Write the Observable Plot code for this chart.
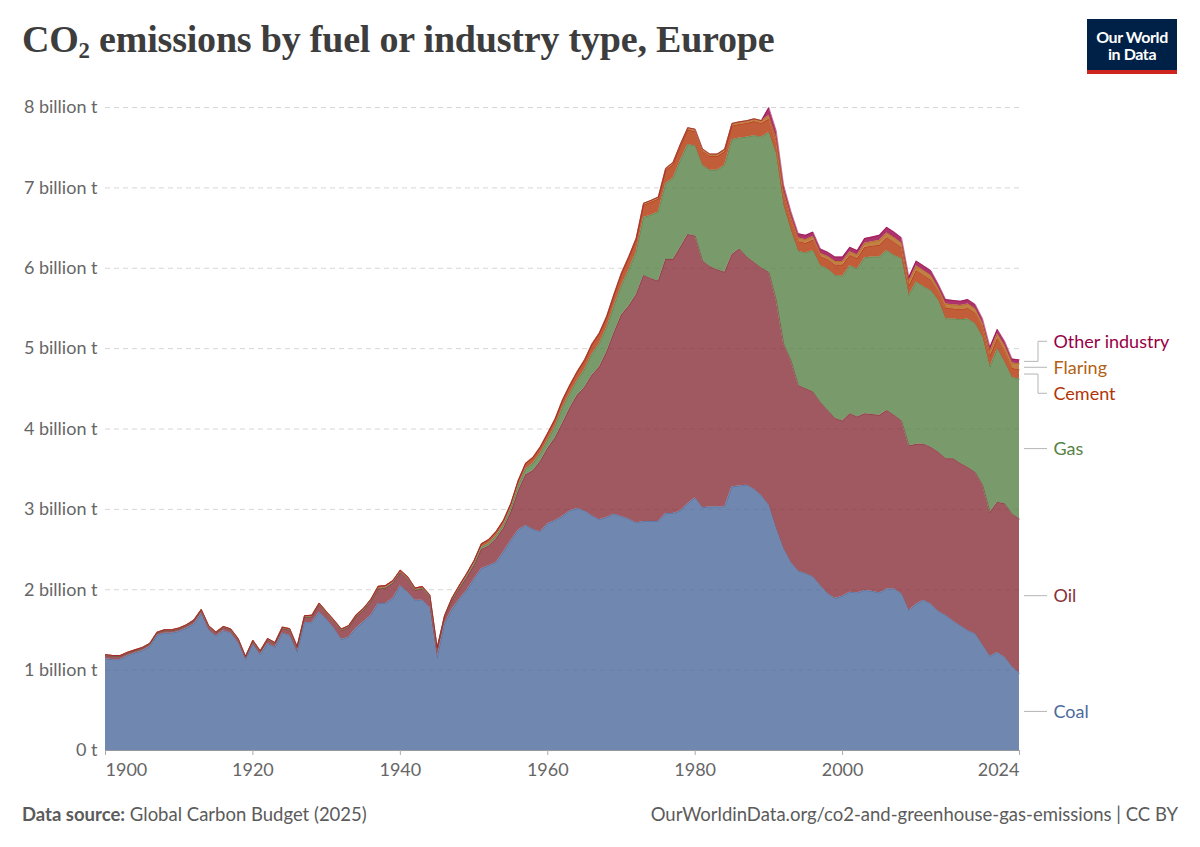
<!DOCTYPE html>
<html>
<head>
<meta charset="utf-8">
<script src="https://cdn.jsdelivr.net/npm/d3@7"></script>
<script src="https://cdn.jsdelivr.net/npm/@observablehq/plot@0.6"></script>
<style>
  body { margin: 0; background: #fff; font-family: Lato, "Noto Sans", sans-serif; }
  #page { position: relative; width: 1200px; height: 847px; overflow: hidden; background: #fff; }
  #title { position: absolute; left: 22px; top: 17px; font-family: "Liberation Serif", "DejaVu Serif", serif;
           font-size: 38px; font-weight: 600; color: #3d3d3d; letter-spacing: -0.2px; white-space: nowrap; }
  #title sub { font-size: 60%; vertical-align: -0.25em; line-height: 0; }
  #logo { position: absolute; left: 1087px; top: 19px; width: 90px; height: 55px; background: #002147;
          border-bottom: 4px solid #ce261e; box-sizing: border-box; color: #fff; text-align: center;
          font-family: Lato, sans-serif; font-weight: 700; font-size: 16px; line-height: 17px; padding-top: 9px;
          letter-spacing: -0.4px; }
  #chart { position: absolute; left: 0; top: 90px; }
  #footer-left { position: absolute; left: 22px; top: 803px; font-size: 18.5px; color: #5b5b5b; }
  #footer-left b { font-weight: 700; }
  #footer-right { position: absolute; right: 22px; top: 803px; font-size: 18.5px; color: #5b5b5b; }
</style>
</head>
<body>
<div id="page">
  <div id="title">CO<sub>2</sub> emissions by fuel or industry type, Europe</div>
  <div id="logo">Our World<br>in Data</div>
  <div id="chart"></div>
  <div id="footer-left"><b>Data source:</b> Global Carbon Budget (2025)</div>
  <div id="footer-right">OurWorldinData.org/co2-and-greenhouse-gas-emissions | CC BY</div>
</div>
<script>
// ---------------- DATA (billion tonnes CO2, Europe) ----------------
const startYear = 1900;
const endYear = 2024;

const fuels = ["Coal", "Oil", "Gas", "Cement", "Flaring", "Other industry"];
const fuelColors = ["#4C6A9C", "#883039", "#578145", "#B13507", "#B16214", "#970046"];

const yTicks = [0, 1, 2, 3, 4, 5, 6, 7, 8];
const xTicksMiddle = [1920, 1940, 1960, 1980, 2000];
const xTickFirst = [1900];
const xTickLast = [2024];

const coal = [
  1.14, 1.13, 1.13, 1.18, 1.21, 1.24, 1.29, 1.43, 1.46, 1.46,   // 1900s
  1.48, 1.52, 1.57, 1.70, 1.50, 1.42, 1.49, 1.46, 1.34, 1.13,   // 1910s
  1.32, 1.19, 1.33, 1.28, 1.46, 1.43, 1.22, 1.59, 1.59, 1.72,   // 1920s
  1.63, 1.52, 1.38, 1.41, 1.52, 1.60, 1.68, 1.83, 1.83, 1.89,   // 1930s
  2.05, 1.97, 1.87, 1.87, 1.78, 1.15, 1.57, 1.75, 1.88, 1.99,   // 1940s
  2.13, 2.26, 2.30, 2.34, 2.47, 2.61, 2.74, 2.80, 2.75, 2.72,   // 1950s
  2.82, 2.86, 2.91, 2.98, 3.01, 2.98, 2.92, 2.87, 2.90, 2.94,   // 1960s
  2.91, 2.88, 2.83, 2.85, 2.85, 2.85, 2.95, 2.95, 2.98, 3.07,   // 1970s
  3.14, 3.02, 3.03, 3.03, 3.03, 3.28, 3.29, 3.30, 3.25, 3.17,   // 1980s
  3.05, 2.76, 2.51, 2.34, 2.23, 2.20, 2.16, 2.05, 1.95, 1.89,   // 1990s
  1.92, 1.97, 1.96, 1.99, 1.98, 1.96, 2.01, 2.01, 1.95, 1.74,   // 2000s
  1.82, 1.87, 1.82, 1.73, 1.68, 1.61, 1.55, 1.49, 1.45, 1.31,   // 2010s
  1.17, 1.22, 1.16, 1.04, 0.96                                  // 2020s
];

const oil = [
  0.04, 0.04, 0.04, 0.03, 0.03, 0.03, 0.03, 0.03, 0.03, 0.03,
  0.03, 0.03, 0.04, 0.04, 0.04, 0.04, 0.04, 0.04, 0.04, 0.03,
  0.035, 0.035, 0.045, 0.045, 0.055, 0.065, 0.055, 0.065, 0.07, 0.09,
  0.07, 0.08, 0.11, 0.12, 0.14, 0.14, 0.17, 0.18, 0.19, 0.19,
  0.16, 0.16, 0.12, 0.14, 0.13, 0.11, 0.08, 0.11, 0.13, 0.16,
  0.17, 0.24, 0.245, 0.295, 0.295, 0.355, 0.49, 0.63, 0.73, 0.88,
  0.94, 1.03, 1.16, 1.28, 1.41, 1.54, 1.75, 1.90, 2.06, 2.26,
  2.51, 2.65, 2.84, 3.06, 3.02, 2.99, 3.16, 3.16, 3.28, 3.35,
  3.26, 3.07, 2.99, 2.95, 2.92, 2.89, 2.95, 2.84, 2.82, 2.83,
  2.90, 2.84, 2.55, 2.51, 2.31, 2.30, 2.30, 2.28, 2.28, 2.24,
  2.18, 2.22, 2.19, 2.20, 2.20, 2.21, 2.22, 2.16, 2.15, 2.05,
  1.99, 1.94, 1.95, 1.98, 1.95, 2.02, 2.02, 2.03, 2.01, 1.99,
  1.79, 1.87, 1.91, 1.90, 1.92
];

const gas = [
  0.002, 0.002, 0.002, 0.002, 0.002, 0.002, 0.002, 0.002, 0.002, 0.002,
  0.003, 0.003, 0.003, 0.003, 0.003, 0.003, 0.003, 0.003, 0.003, 0.003,
  0.004, 0.004, 0.004, 0.004, 0.004, 0.004, 0.004, 0.004, 0.004, 0.004,
  0.006, 0.006, 0.006, 0.006, 0.006, 0.006, 0.006, 0.006, 0.006, 0.006,
  0.008, 0.008, 0.008, 0.008, 0.008, 0.006, 0.008, 0.010, 0.012, 0.015,
  0.020, 0.025, 0.030, 0.035, 0.040, 0.045, 0.060, 0.070, 0.090, 0.095,
  0.10, 0.14, 0.19, 0.18, 0.18, 0.22, 0.26, 0.29, 0.30, 0.33,
  0.36, 0.45, 0.53, 0.72, 0.79, 0.86, 0.94, 1.01, 1.08, 1.12,
  1.12, 1.19, 1.20, 1.24, 1.33, 1.43, 1.38, 1.49, 1.58, 1.63,
  1.74, 1.82, 1.72, 1.62, 1.67, 1.69, 1.76, 1.70, 1.76, 1.78,
  1.80, 1.84, 1.84, 1.94, 1.96, 1.97, 1.99, 1.99, 2.02, 1.87,
  2.02, 1.96, 1.95, 1.89, 1.74, 1.74, 1.79, 1.85, 1.85, 1.84,
  1.81, 1.91, 1.76, 1.70, 1.74
];

const cement = [
  0.010, 0.010, 0.010, 0.010, 0.010, 0.010, 0.010, 0.010, 0.010, 0.010,
  0.012, 0.012, 0.012, 0.012, 0.010, 0.010, 0.010, 0.010, 0.010, 0.008,
  0.013, 0.012, 0.014, 0.014, 0.016, 0.017, 0.016, 0.018, 0.019, 0.020,
  0.020, 0.018, 0.016, 0.017, 0.019, 0.021, 0.024, 0.026, 0.027, 0.028,
  0.026, 0.025, 0.024, 0.022, 0.018, 0.012, 0.020, 0.025, 0.030, 0.035,
  0.040, 0.045, 0.048, 0.052, 0.056, 0.060, 0.065, 0.068, 0.072, 0.077,
  0.082, 0.087, 0.092, 0.097, 0.103, 0.108, 0.114, 0.120, 0.126, 0.132,
  0.140, 0.145, 0.150, 0.155, 0.160, 0.160, 0.165, 0.170, 0.175, 0.180,
  0.180, 0.175, 0.170, 0.170, 0.170, 0.170, 0.170, 0.172, 0.175, 0.172,
  0.165, 0.155, 0.140, 0.130, 0.120, 0.120, 0.130, 0.115, 0.115, 0.130,
  0.140, 0.130, 0.130, 0.130, 0.135, 0.145, 0.160, 0.160, 0.135, 0.120,
  0.140, 0.140, 0.130, 0.105, 0.130, 0.125, 0.125, 0.130, 0.130, 0.125,
  0.135, 0.125, 0.135, 0.115, 0.115
];

const flaring = [
  0, 0, 0, 0, 0, 0, 0, 0, 0, 0,
  0, 0, 0, 0, 0, 0, 0, 0, 0, 0,
  0, 0, 0, 0, 0, 0, 0, 0, 0, 0,
  0, 0, 0, 0, 0, 0, 0, 0, 0, 0,
  0, 0, 0, 0, 0, 0, 0, 0, 0, 0,
  0.002, 0.002, 0.003, 0.003, 0.004, 0.004, 0.005, 0.005, 0.006, 0.007,
  0.008, 0.009, 0.010, 0.011, 0.012, 0.013, 0.014, 0.015, 0.016, 0.018,
  0.020, 0.021, 0.022, 0.023, 0.024, 0.025, 0.026, 0.027, 0.028, 0.029,
  0.030, 0.030, 0.030, 0.030, 0.030, 0.031, 0.032, 0.033, 0.034, 0.035,
  0.045, 0.045, 0.045, 0.045, 0.045, 0.045, 0.045, 0.040, 0.040, 0.045,
  0.045, 0.045, 0.045, 0.050, 0.055, 0.060, 0.060, 0.060, 0.060, 0.055,
  0.060, 0.060, 0.060, 0.045, 0.055, 0.050, 0.050, 0.055, 0.055, 0.050,
  0.060, 0.060, 0.070, 0.065, 0.075
];

const otherIndustry = [
  0, 0, 0, 0, 0, 0, 0, 0, 0, 0,
  0, 0, 0, 0, 0, 0, 0, 0, 0, 0,
  0, 0, 0, 0, 0, 0, 0, 0, 0, 0,
  0, 0, 0, 0, 0, 0, 0, 0, 0, 0,
  0, 0, 0, 0, 0, 0, 0, 0, 0, 0,
  0, 0, 0, 0, 0, 0, 0, 0, 0, 0,
  0, 0, 0, 0, 0, 0, 0, 0, 0, 0,
  0, 0, 0, 0, 0, 0, 0, 0, 0, 0,
  0, 0, 0, 0, 0, 0, 0, 0, 0, 0,
  0.100, 0.090, 0.070, 0.060, 0.055, 0.055, 0.055, 0.055, 0.055, 0.055,
  0.055, 0.055, 0.055, 0.060, 0.060, 0.065, 0.070, 0.070, 0.065, 0.055,
  0.060, 0.060, 0.060, 0.050, 0.055, 0.055, 0.055, 0.055, 0.055, 0.055,
  0.055, 0.055, 0.055, 0.050, 0.050
];

// ---------------- BUILD ----------------
const seriesByFuel = {
  "Coal": coal, "Oil": oil, "Gas": gas, "Cement": cement,
  "Flaring": flaring, "Other industry": otherIndustry
};
const years = d3.range(startYear, endYear + 1);
const rows = [];
for (const f of fuels) {
  seriesByFuel[f].forEach((v, i) => rows.push({ year: years[i], fuel: f, value: v }));
}

const W = 1200, H = 700, mTop = 17, mBottom = 40, mLeft = 105, mRight = 181;
const yMax = 8;
const pxPerUnit = (H - mTop - mBottom) / yMax;

// end labels with a simple dodge (in data units)
const lastIdx = years.length - 1;
let cum = 0;
const endLabels = fuels.map(f => {
  const v = seriesByFuel[f][lastIdx];
  const mid = cum + v / 2;
  cum += v;
  return { fuel: f, mid, year: endYear };
});
const gap = 26 / pxPerUnit;
let clusters = endLabels.map(l => ({ items: [l], center: l.mid }));
let merged = true;
while (merged) {
  merged = false;
  for (let i = 0; i < clusters.length - 1; i++) {
    const a = clusters[i], b = clusters[i + 1];
    const aTop = a.center + (a.items.length - 1) / 2 * gap;
    const bBot = b.center - (b.items.length - 1) / 2 * gap;
    if (bBot - aTop < gap) {
      const items = a.items.concat(b.items);
      clusters.splice(i, 2, { items, center: d3.mean(items, d => d.mid) });
      merged = true;
      break;
    }
  }
}
for (const c of clusters) {
  c.items.forEach((it, k) => { it.labelY = c.center + (k - (c.items.length - 1) / 2) * gap; });
}

const axisFont = 18;
const plot = Plot.plot({
  width: W, height: H,
  marginTop: mTop, marginBottom: mBottom, marginLeft: mLeft, marginRight: mRight,
  x: { domain: [startYear, endYear], label: null },
  y: { domain: [0, yMax], label: null },
  color: { domain: fuels, range: fuelColors },
  style: { fontFamily: "Lato, 'Noto Sans', sans-serif", fontSize: "18px", background: "transparent", overflow: "visible" },
  marks: [
    Plot.gridY({ ticks: yTicks.filter(d => d > 0), stroke: "#d6d6d6", strokeOpacity: 1, strokeDasharray: "5,4" }),
    Plot.areaY(rows, { x: "year", y: "value", z: "fuel", fill: "fuel", fillOpacity: 0.8, order: fuels, curve: "linear" }),
    Plot.lineY(rows, Plot.stackY2({ x: "year", y: "value", z: "fuel", stroke: "fuel", order: fuels, strokeWidth: 0.6, strokeOpacity: 0.9 })),
    Plot.ruleY([0], { stroke: "#999", strokeWidth: 1 }),
    Plot.axisY({ ticks: yTicks, tickSize: 0, tickPadding: 8, fill: "#666", fontSize: axisFont, label: null,
                 tickFormat: d => d === 0 ? "0 t" : `${d} billion t` }),
    Plot.axisX({ ticks: xTicksMiddle, tickSize: 5, tickPadding: 8, stroke: "#aaa", fill: "#666", fontSize: axisFont, label: null, tickFormat: d => `${d}` }),
    Plot.axisX({ ticks: xTickFirst, tickSize: 5, tickPadding: 8, stroke: "#aaa", fill: "#666", fontSize: axisFont, label: null, textAnchor: "start", tickFormat: d => `${d}` }),
    Plot.axisX({ ticks: xTickLast, tickSize: 5, tickPadding: 8, stroke: "#aaa", fill: "#666", fontSize: axisFont, label: null, textAnchor: "end", tickFormat: d => `${d}` }),
    Plot.text(endLabels, { x: "year", y: "labelY", text: "fuel", fill: "fuel", dx: 34, textAnchor: "start", fontSize: 18 })
  ]
});

// connector lines from series ends to labels
const sx = plot.scale("x"), sy = plot.scale("y");
const g = d3.select(plot).append("g").attr("fill", "none").attr("stroke", "#b5b5b5").attr("stroke-width", 1);
for (const l of endLabels) {
  const x0 = sx.apply(l.year);
  const y0 = sy.apply(l.mid), y1 = sy.apply(l.labelY);
  const path = Math.abs(y0 - y1) < 1.5
    ? `M${x0 + 5},${y1}H${x0 + 28}`
    : `M${x0 + 5},${y0}H${x0 + 19}V${y1}H${x0 + 28}`;
  g.append("path").attr("d", path);
}

document.getElementById("chart").appendChild(plot);
</script>
</body>
</html>
